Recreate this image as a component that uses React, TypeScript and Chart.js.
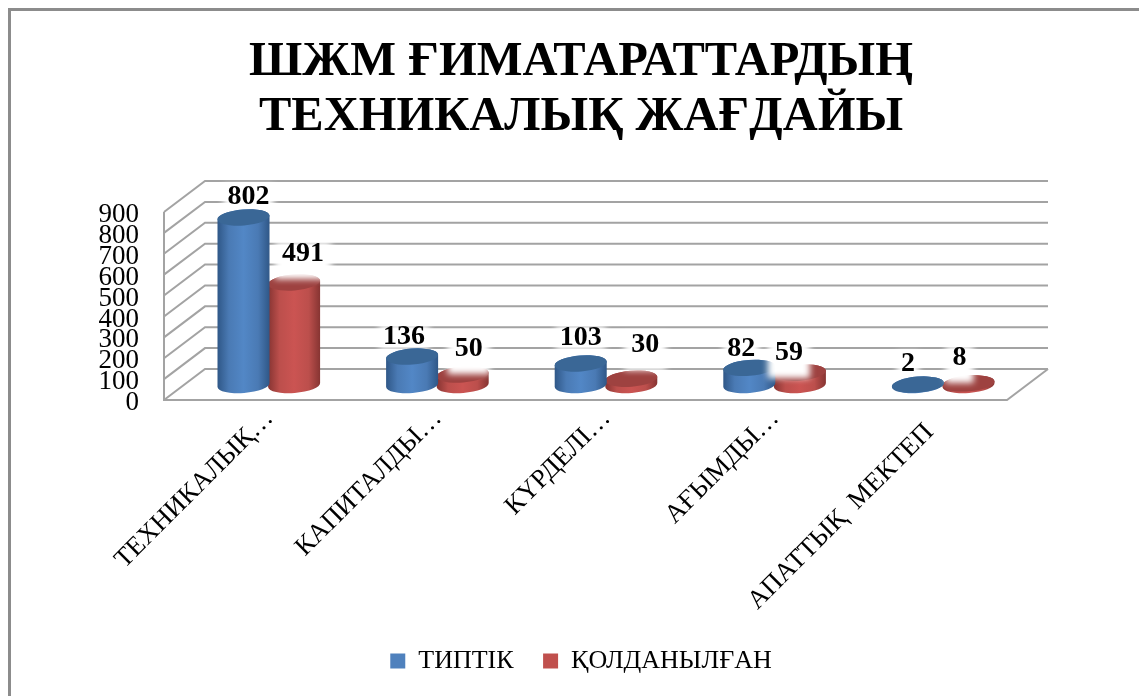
import React, { useEffect, useRef } from "react";
import { Chart, registerables } from "chart.js";

Chart.register(...registerables);

const titleLines = ["ШЖМ ҒИМАТАРАТТАРДЫҢ", "ТЕХНИКАЛЫҚ ЖАҒДАЙЫ"];
const categories = ["ТЕХНИКАЛЫҚ…", "КАПИТАЛДЫ…", "КҮРДЕЛІ…", "АҒЫМДЫ…", "АПАТТЫҚ  МЕКТЕП   "];
const typtik = [802, 136, 103, 82, 2];
const qoldanylgan = [491, 50, 30, 59, 8];
const seriesNames = ["ТИПТІК", "ҚОЛДАНЫЛҒАН"];

// hand-placed data label offsets from each cylinder's top centre
const blueLabelShift = [[5, -20.5], [-8, -19.5], [0, -25.5], [-8, -19.5], [-10, -20.5]];
const redLabelShift = [[9, -28.5], [6, -25.5], [14, -33.5], [-11, -19.5], [-9, -25.5]];

const SERIF = '"Liberation Serif", "DejaVu Serif", serif';
const DEPTH_X = 41;
const DEPTH_Y = 31;
const MID_X = 20.5;
const MID_Y = 15;
const RY = 8;
const TILT = -0.08;

const BLUE = { edge: "#2F5787", mid: "#4A7AB4", light: "#5287C6", top: "#3A6796" };
const RED = { edge: "#863432", mid: "#BC4F4C", light: "#CB5452", top: "#9E4240" };

function cylinder(ctx: any, cx: number, yTop: number, yBase: number, rx: number, c: any) {
  const g = ctx.createLinearGradient(cx - rx, 0, cx + rx, 0);
  g.addColorStop(0, c.edge);
  g.addColorStop(0.22, c.mid);
  g.addColorStop(0.5, c.light);
  g.addColorStop(0.78, c.mid);
  g.addColorStop(1, c.edge);
  ctx.beginPath();
  ctx.ellipse(cx, yBase, rx, RY, TILT, 0, Math.PI, false);
  ctx.ellipse(cx, yTop, rx, RY, TILT, Math.PI, Math.PI * 2, false);
  ctx.closePath();
  ctx.fillStyle = g;
  ctx.fill();
  ctx.beginPath();
  ctx.ellipse(cx, yTop, rx, RY, TILT, 0, Math.PI * 2);
  ctx.fillStyle = c.top;
  ctx.fill();
}

function labelFont() {
  return `bold 28px ${SERIF}`;
}

function glow(ctx: any, x: number, y: number, text: string, above: number, below: number, pad: number) {
  ctx.save();
  ctx.font = labelFont();
  const w = ctx.measureText(text).width;
  ctx.filter = "blur(3px)";
  ctx.fillStyle = "#FFFFFF";
  ctx.fillRect(x - w / 2 - pad, y - above, w + pad * 2, above + below);
  ctx.restore();
}

function labelPos(chart: any, dsIndex: number, i: number, shift: number[][]) {
  const el = chart.getDatasetMeta(dsIndex).data[i];
  return [el.x + MID_X + shift[i][0], el.y - MID_Y + shift[i][1]];
}

const chart3d = {
  id: "chart3d",
  beforeDraw(chart: any) {
    const { ctx, width, height } = chart;
    ctx.save();
    ctx.fillStyle = "#FFFFFF";
    ctx.fillRect(0, 0, width, height);
    ctx.strokeStyle = "#8C8C8C";
    ctx.lineWidth = 3;
    ctx.beginPath();
    ctx.moveTo(9.5, height + 5);
    ctx.lineTo(9.5, 9.5);
    ctx.lineTo(width + 5, 9.5);
    ctx.stroke();
    ctx.restore();
  },
  beforeDatasetsDraw(chart: any) {
    const { ctx, chartArea, scales } = chart;
    const { left, right, top, bottom } = chartArea;
    ctx.save();
    ctx.strokeStyle = "#A3A3A3";
    ctx.lineWidth = 2;
    scales.y.ticks.forEach((t: any) => {
      const y = scales.y.getPixelForValue(t.value);
      ctx.beginPath();
      ctx.moveTo(left, y);
      ctx.lineTo(left + DEPTH_X, y - DEPTH_Y);
      ctx.lineTo(right + DEPTH_X, y - DEPTH_Y);
      ctx.stroke();
    });
    ctx.beginPath();
    ctx.moveTo(left, top);
    ctx.lineTo(left, bottom);
    ctx.lineTo(right, bottom);
    ctx.lineTo(right + DEPTH_X, bottom - DEPTH_Y);
    ctx.stroke();
    ctx.restore();
    typtik.forEach((v, i) => {
      const [x, y] = labelPos(chart, 0, i, blueLabelShift);
      glow(ctx, x, y, String(v), 12, 12, 4);
    });
  },
  beforeDatasetDraw(chart: any, args: any) {
    const { ctx } = chart;
    const meta = chart.getDatasetMeta(args.index);
    const colors = args.index === 0 ? BLUE : RED;
    meta.data.forEach((el: any) => {
      cylinder(ctx, el.x + MID_X, el.y - MID_Y, el.base - MID_Y, el.width / 2 + 0.8, colors);
    });
    return false;
  },
  afterDatasetsDraw(chart: any) {
    const { ctx } = chart;
    qoldanylgan.forEach((v, i) => {
      const [x, y] = labelPos(chart, 1, i, redLabelShift);
      glow(ctx, x, y, String(v), 12, 25, 7);
    });
    ctx.save();
    ctx.font = labelFont();
    ctx.fillStyle = "#000000";
    ctx.textAlign = "center";
    ctx.textBaseline = "middle";
    typtik.forEach((v, i) => {
      const [x, y] = labelPos(chart, 0, i, blueLabelShift);
      ctx.fillText(String(v), x, y);
    });
    qoldanylgan.forEach((v, i) => {
      const [x, y] = labelPos(chart, 1, i, redLabelShift);
      ctx.fillText(String(v), x, y);
    });
    ctx.restore();
  },
};

export default function App() {
  const ref = useRef<HTMLCanvasElement | null>(null);
  useEffect(() => {
    const chart = new Chart(ref.current as any, {
      type: "bar",
      data: {
        labels: categories,
        datasets: [
          { label: seriesNames[0], data: typtik, backgroundColor: "#4F81BD", borderWidth: 0 },
          { label: seriesNames[1], data: qoldanylgan, backgroundColor: "#C0504D", borderWidth: 0 },
        ],
      },
      options: {
        responsive: false,
        animation: false,
        layout: { padding: { left: 23, right: 0, top: 0, bottom: 12 } },
        datasets: { bar: { categoryPercentage: 0.6, barPercentage: 1 } },
        plugins: {
          tooltip: { enabled: false },
          title: {
            display: true,
            text: titleLines,
            color: "#000000",
            font: { family: SERIF, size: 48.5, weight: "bold", lineHeight: 1.134 },
            padding: { top: 35, bottom: 67 },
          },
          legend: {
            position: "bottom",
            labels: {
              color: "#000000",
              boxWidth: 15,
              boxHeight: 15,
              padding: 10,
              font: { family: SERIF, size: 26 },
              generateLabels: (c: any) =>
                Chart.defaults.plugins.legend.labels
                  .generateLabels(c)
                  .map((it: any, i: number) => (i === 0 ? { ...it, text: it.text + "   " } : it)),
            },
          },
        },
        scales: {
          x: {
            grid: { display: false },
            border: { display: false },
            afterFit: (s: any) => {
              s.height = 238;
            },
            ticks: {
              color: "#000000",
              autoSkip: false,
              minRotation: 45,
              maxRotation: 45,
              labelOffset: 21,
              padding: -5,
              font: { family: SERIF, size: 26.5 },
            },
          },
          y: {
            min: 0,
            max: 900,
            grid: { display: false, drawTicks: false },
            border: { display: false },
            afterFit: (s: any) => {
              s.width = 141;
            },
            ticks: {
              stepSize: 100,
              autoSkip: false,
              color: "#000000",
              padding: 25,
              labelOffset: 3,
              font: { family: SERIF, size: 27 },
            },
          },
          spacer: {
            type: "linear",
            position: "right",
            display: true,
            grid: { display: false },
            border: { display: false },
            ticks: { display: false },
            afterFit: (s: any) => {
              s.width = 132;
            },
          },
        },
      },
      plugins: [chart3d],
    } as any);
    return () => chart.destroy();
  }, []);
  return (
    <div style={{ position: "fixed", left: 0, top: 0 }}>
      <canvas ref={ref} width={1139} height={696} style={{ display: "block" }} />
    </div>
  );
}
